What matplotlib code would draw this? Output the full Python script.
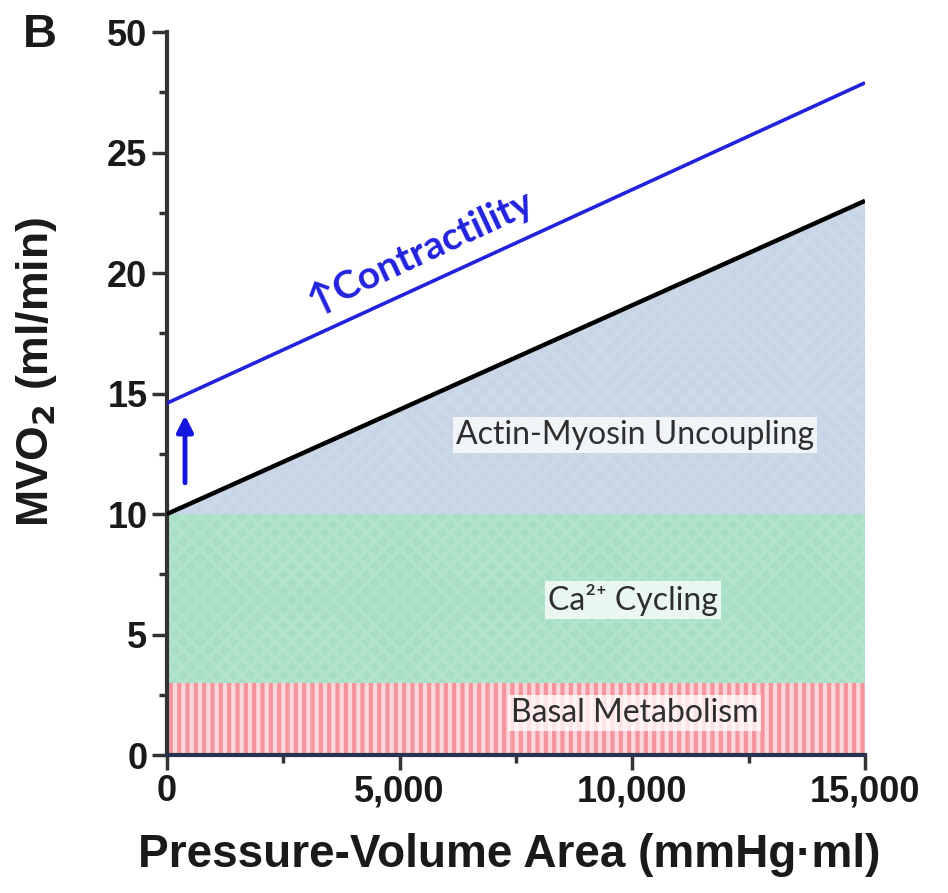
import matplotlib.pyplot as plt
import numpy as np

# --------------------------------------------------
# data
# --------------------------------------------------
pva = [0, 15000]                      # pressure-volume area (mmHg*ml)
mvo2_baseline = [10.0, 23.0]          # black line
mvo2_contractility = [14.6, 27.9]     # blue line
basal_top = 3.0
ca_top = 10.0

x_ticks = [0, 5000, 10000, 15000]
x_tick_labels = ["0", "5,000", "10,000", "15,000"]
y_ticks = [0, 5, 10, 15, 20, 25, 30]
y_tick_labels = ["0", "5", "10", "15", "20", "25", "50"]

# --------------------------------------------------
# figure
# --------------------------------------------------
plt.rcParams["font.family"] = ["Liberation Sans", "DejaVu Sans"]
plt.rcParams["hatch.linewidth"] = 3.0

fig = plt.figure(figsize=(9.48, 8.93), dpi=100)
ax = fig.add_axes([0.176, 0.1545, 0.7365, 0.8095])

x = np.array(pva, dtype=float)
black = np.array(mvo2_baseline)
blue = np.array(mvo2_contractility)

# stacked regions
ax.fill_between(x, 0, basal_top, facecolor="#fcd6da", edgecolor="#f4949d",
                hatch="||", linewidth=0, zorder=1)
ax.fill_between(x, basal_top, ca_top, facecolor="#a8dfc4", edgecolor="#b2e3cb",
                hatch="xx", linewidth=0, zorder=1)
ax.fill_between(x, ca_top, black, facecolor="#c6d4e5", edgecolor="#cbd8e7",
                hatch="xx", linewidth=0, zorder=1)

# lines
ax.plot(x, black, color="black", linewidth=3.2, solid_capstyle="butt", zorder=3)
ax.plot(x, blue, color="#2222dd", linewidth=2.6, solid_capstyle="butt", zorder=3)

# shift arrow
ax.annotate("", xy=(390, 14.1), xytext=(390, 11.3),
            arrowprops=dict(arrowstyle="-|>", color="#1515dd", lw=3.5,
                            mutation_scale=24, shrinkA=0, shrinkB=0), zorder=4)

# region labels
lab_font = ["Lato", "DejaVu Sans"]
box = dict(facecolor="white", edgecolor="none", alpha=0.75, pad=2)
ax.text(10050, 13.28, "Actin-Myosin Uncoupling", ha="center", va="center",
        fontsize=23, color="#2e2e2e", family=lab_font, bbox=box, zorder=5)
ax.text(10020, 6.43, "Ca\u00b2\u207a Cycling", ha="center", va="center",
        fontsize=23, color="#2e2e2e", family=lab_font, bbox=box, zorder=5)
ax.text(10050, 1.74, "Basal Metabolism", ha="center", va="center",
        fontsize=23, color="#2e2e2e", family=lab_font, bbox=box, zorder=5)
ax.text(5437, 20.95, "\u2191Contractility", ha="center", va="center",
        fontsize=28, fontweight="bold", color="#2222dd", rotation=25,
        family=lab_font, zorder=5)

# axes styling
ax.set_xlim(0, 15000)
ax.set_ylim(0, 30)
ax.set_xticks(x_ticks)
ax.set_xticklabels(x_tick_labels)
ax.set_xticks(np.arange(0, 15001, 2500), minor=True)
ax.set_yticks(y_ticks)
ax.set_yticklabels(y_tick_labels)
ax.set_yticks(np.arange(0, 30.1, 2.5), minor=True)

for side in ["top", "right"]:
    ax.spines[side].set_visible(False)
ax.spines["left"].set_color("#333333")
ax.spines["bottom"].set_color("#2a3450")
ax.spines["left"].set_linewidth(3)
ax.spines["bottom"].set_linewidth(3)

ax.tick_params(axis="both", which="major", length=11, width=2.5, colors="#333333",
               labelsize=26, labelcolor="#1a1a1a", pad=3)
ax.tick_params(axis="both", which="minor", length=6, width=2.5, colors="#333333")
for lbl in ax.get_xticklabels() + ax.get_yticklabels():
    lbl.set_fontweight("bold")

ax.set_xlabel("Pressure-Volume Area (mmHg\u00b7ml)", fontsize=33, fontweight="bold",
              color="#1a1a1a")
ax.set_ylabel("MVO$_\\mathbf{2}$ (ml/min)", fontsize=32, fontweight="bold",
              color="#1a1a1a")
ax.xaxis.set_label_coords(0.49, -0.108)
ax.yaxis.set_label_coords(-0.155, 0.53)

fig.text(0.024, 0.961, "B", fontsize=34, fontweight="bold", color="#1a1a1a",
         ha="left", va="center")

fig.savefig("out.png", dpi=100)
